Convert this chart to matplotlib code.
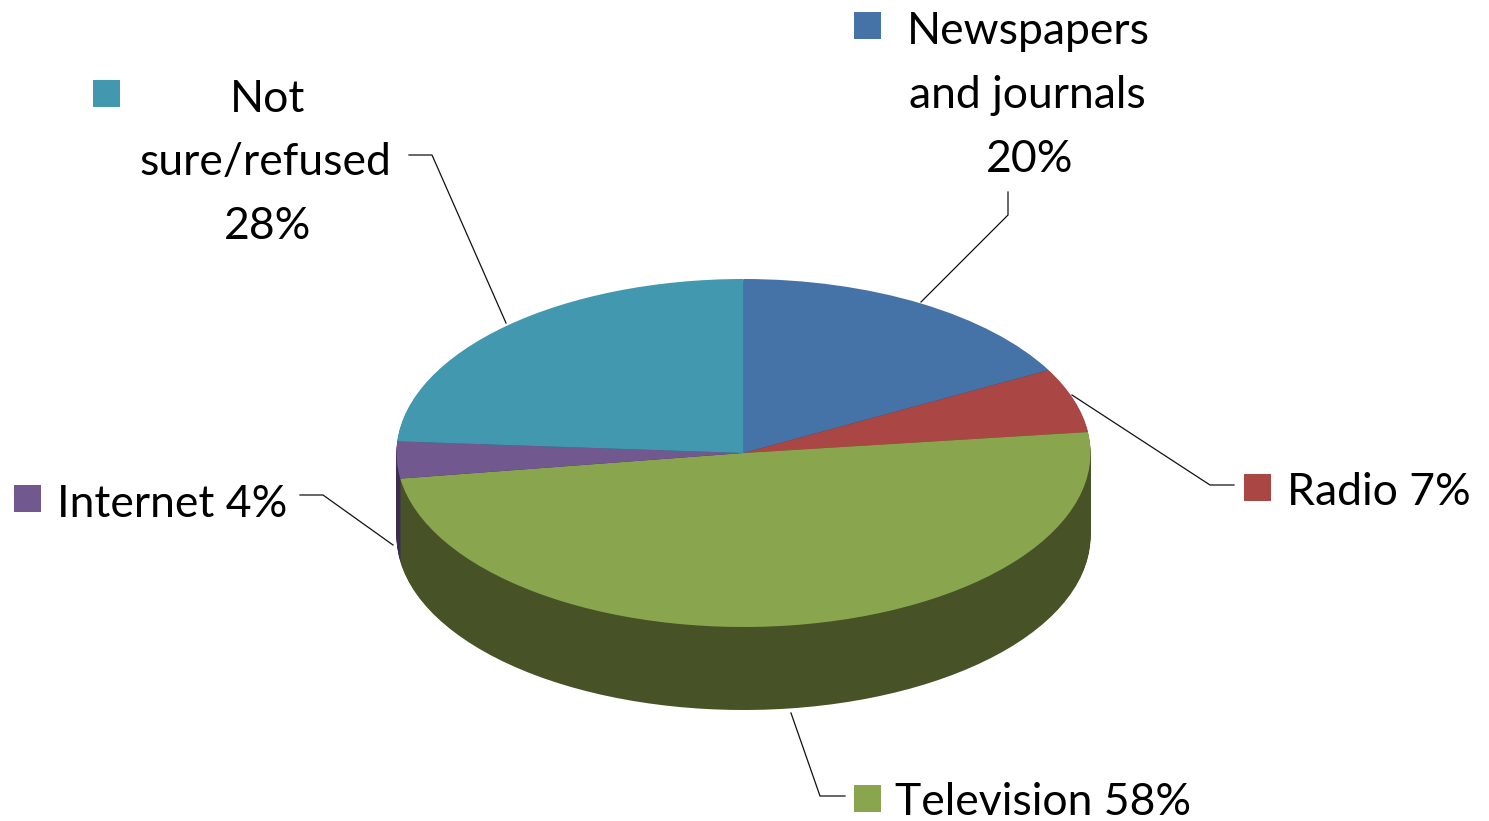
import matplotlib
matplotlib.use('Agg')
import matplotlib.pyplot as plt
from matplotlib.patches import Rectangle
import numpy as np

categories = ['Newspapers and journals', 'Radio', 'Television', 'Internet', 'Not sure/refused']
values = [20, 7, 58, 4, 28]
top_colors = ['#4572A7', '#AA4643', '#89A54E', '#71588F', '#4198AF']
side_colors = ['#2A4464', '#662A28', '#475226', '#3C2D52', '#275B69']

W, H = 1489, 821
CX, CY = 743.5, 453
RX, RY = 347, 174
DEPTH = 83

plt.rcParams['font.family'] = ['Lato', 'DejaVu Sans']

fig = plt.figure(figsize=(W / 100, H / 100), dpi=100, facecolor='white')
ax = fig.add_axes([0, 0, 1, 1])

#one data unit is RX px across and RY px down, this squashes the pie
def fx(x):
	return x / W

def fy(y):
	return 1 - y / H

#side of the pie, stacked from the bottom up
for off in np.arange(DEPTH, 0, -1):
	ax.pie(values, colors=side_colors, startangle=90, counterclock=False,
		center=(0, -off / RY), wedgeprops={'linewidth': 0})

ax.pie(values, colors=top_colors, startangle=90, counterclock=False,
	wedgeprops={'linewidth': 0})

ax.set_aspect('auto')
ax.set_xlim(-CX / RX, (W - CX) / RX)
ax.set_ylim((CY - H) / RY, CY / RY)
ax.axis('off')

#leader lines
leaders = [
	[(1008, 192), (1008, 215), (921, 302)],
	[(1234, 485), (1210, 485), (1072, 395)],
	[(791, 713), (820, 796), (845, 796)],
	[(300, 495), (323, 495), (393, 545)],
	[(409, 155), (432, 155), (506, 323)],
]
for pts in leaders:
	fig.add_artist(plt.Line2D([fx(p[0]) for p in pts], [fy(p[1]) for p in pts],
		color='#111111', lw=0.9, transform=fig.transFigure))

#legend keys
keys = [(854, 12), (1244, 474), (854, 785), (14, 485), (93, 80)]
for (kx, ky), c in zip(keys, top_colors):
	fig.add_artist(Rectangle((fx(kx), fy(ky + 27)), 27 / W, 27 / H, color=c,
		lw=0, transform=fig.transFigure))

#labels, one text per line so the baselines match
labels = [
	('Newspapers', 1028, 44, 'center'),
	('and journals', 1027, 108, 'center'),
	('20%', 1030, 172, 'center'),
	('Radio 7%', 1287, 505, 'left'),
	('Television 58%', 895, 815, 'left'),
	('Internet 4%', 57, 517, 'left'),
	('Not', 268, 112, 'center'),
	('sure/refused', 265, 175, 'center'),
	('28%', 268, 239, 'center'),
]
for txt, lx, ly, ha in labels:
	fig.text(fx(lx), fy(ly), txt, ha=ha, va='baseline', fontsize=32, color='black')

fig.savefig('out.png', dpi=100)
